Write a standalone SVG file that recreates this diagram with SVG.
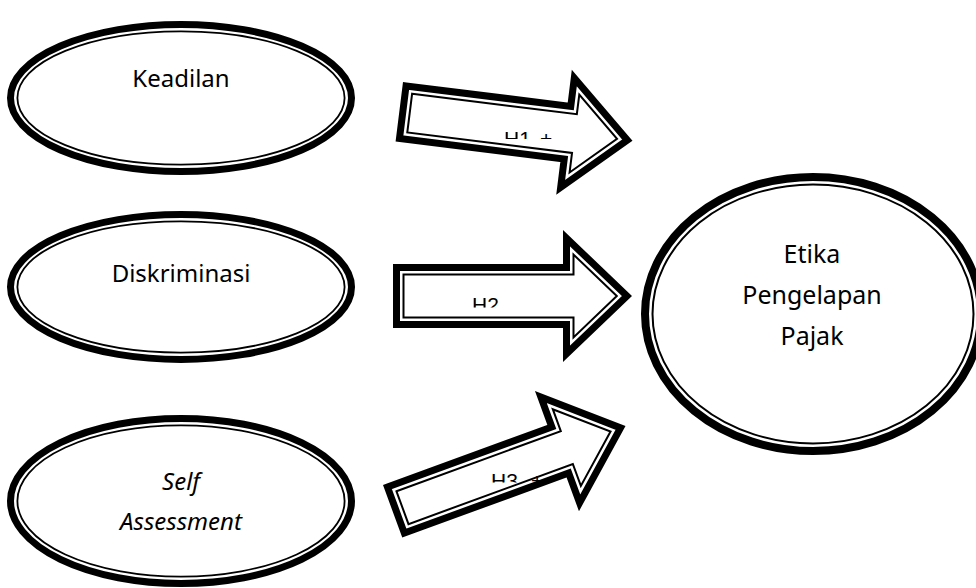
<svg xmlns="http://www.w3.org/2000/svg" width="976" height="588" viewBox="0 0 976 588">
<style>
.thick{fill:#fff;stroke:#000;stroke-width:7}
.thin{fill:none;stroke:#000;stroke-width:1.8}
.thickR{fill:#fff;stroke:#000;stroke-width:8}
.thinR{fill:none;stroke:#000;stroke-width:2}
.aout{fill:#fff;stroke:#000;stroke-width:7;stroke-linejoin:miter;stroke-miterlimit:10}
.ain{fill:none;stroke:#000;stroke-width:2;stroke-linejoin:miter;stroke-miterlimit:10}
.lbl{font-family:"Noto Sans","Open Sans",sans-serif;font-size:24px;fill:#000;text-anchor:middle}
.big{font-size:25px}
.it{font-style:italic}
.h{font-family:"Liberation Sans",Arial,sans-serif;font-size:21px;fill:#000}
</style>
<defs>
<clipPath id="c1"><rect x="490" y="120" width="80" height="19"/></clipPath>
<clipPath id="c2"><rect x="460" y="285" width="80" height="22.5"/></clipPath>
<clipPath id="c3"><rect x="480" y="462" width="80" height="20.5"/></clipPath>
</defs>
<rect width="976" height="588" fill="#fff"/>
<g id="keadilan">
<ellipse class="thick" cx="181" cy="98" rx="170.5" ry="73.5"/>
<ellipse class="thin" cx="181" cy="98" rx="163.6" ry="66.6"/>
<text class="lbl" x="181" y="87">Keadilan</text>
</g>
<g id="diskriminasi">
<ellipse class="thick" cx="181" cy="287" rx="170.5" ry="72.5"/>
<ellipse class="thin" cx="181" cy="287" rx="163.6" ry="65.6"/>
<text class="lbl" x="181" y="282">Diskriminasi</text>
</g>
<g id="self-assessment">
<ellipse class="thick" cx="181" cy="501" rx="170.5" ry="82.5"/>
<ellipse class="thin" cx="181" cy="501" rx="163.6" ry="75.6"/>
<text class="lbl it" x="181" y="490">Self</text>
<text class="lbl it" x="181" y="530">Assessment</text>
</g>
<g id="etika-pengelapan-pajak">
<ellipse class="thickR" cx="813" cy="314" rx="168" ry="137"/>
<ellipse class="thinR" cx="813" cy="314" rx="160.5" ry="129.5"/>
<text class="lbl big" x="812" y="263">Etika</text>
<text class="lbl big" x="812" y="304">Pengelapan</text>
<text class="lbl big" x="812" y="345">Pajak</text>
</g>
<g id="connectors">
<g id="arrow-h1" transform="translate(403,82) rotate(7.1)">
<polygon class="aout" points="3.5,3.5 169.5,3.5 169.5,-25.07 229.81,30 169.5,85.07 169.5,56.5 3.5,56.5"/>
<polygon class="ain" points="10.5,10.5 176.5,10.5 176.5,-9.19 219.43,30 176.5,69.19 176.5,49.5 10.5,49.5"/>
</g>
<g id="arrow-h2" transform="translate(393,264)">
<polygon class="aout" points="3.5,3.5 173.5,3.5 173.5,-25.81 233.94,32 173.5,89.81 173.5,60.5 3.5,60.5"/>
<polygon class="ain" points="10.5,10.5 180.5,10.5 180.5,-9.43 223.81,32 180.5,73.43 180.5,53.5 10.5,53.5"/>
</g>
<g id="arrow-h3" transform="translate(383,485) rotate(-20.1)">
<polygon class="aout" points="3.5,3.5 178.5,3.5 178.5,-28.28 242.69,28 178.5,84.28 178.5,52.5 3.5,52.5"/>
<polygon class="ain" points="10.5,10.5 185.5,10.5 185.5,-12.83 232.07,28 185.5,68.83 185.5,45.5 10.5,45.5"/>
</g>
<text class="h" clip-path="url(#c1)" x="504" y="146">H1<tspan x="540">+</tspan></text>
<text class="h" clip-path="url(#c2)" x="472" y="312">H2</text>
<text class="h" clip-path="url(#c3)" x="491" y="488">H3<tspan x="531">+</tspan></text>
</g>
</svg>
